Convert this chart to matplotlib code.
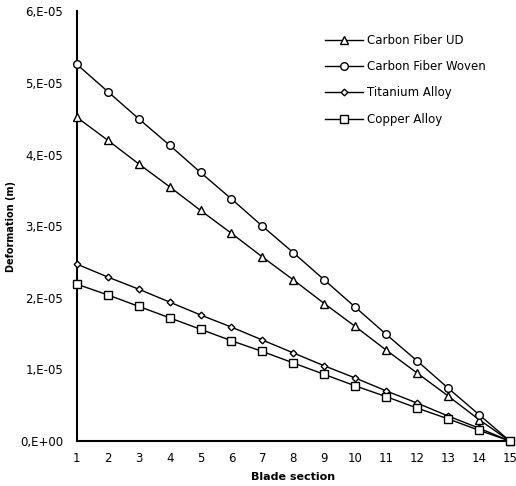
import matplotlib
matplotlib.use("Agg")
import matplotlib.pyplot as plt

sections = list(range(1, 16))
carbon_ud = [4.52e-5, 4.20e-5, 3.87e-5, 3.55e-5, 3.22e-5, 2.90e-5, 2.57e-5, 2.25e-5,
             1.92e-5, 1.60e-5, 1.27e-5, 0.95e-5, 0.63e-5, 0.30e-5, 0.0]
carbon_woven = [5.26e-5, 4.88e-5, 4.50e-5, 4.13e-5, 3.75e-5, 3.38e-5, 3.00e-5, 2.63e-5,
                2.25e-5, 1.87e-5, 1.49e-5, 1.12e-5, 0.74e-5, 0.37e-5, 0.0]
titanium = [2.47e-5, 2.29e-5, 2.12e-5, 1.94e-5, 1.76e-5, 1.59e-5, 1.41e-5, 1.23e-5,
            1.05e-5, 0.88e-5, 0.70e-5, 0.53e-5, 0.35e-5, 0.18e-5, 0.0]
copper = [2.19e-5, 2.04e-5, 1.88e-5, 1.72e-5, 1.56e-5, 1.40e-5, 1.25e-5, 1.09e-5,
          0.93e-5, 0.77e-5, 0.62e-5, 0.46e-5, 0.31e-5, 0.15e-5, 0.0]
series_names = ["Carbon Fiber UD", "Carbon Fiber Woven", "Titanium Alloy", "Copper Alloy"]
y_ticks = [0, 1e-5, 2e-5, 3e-5, 4e-5, 5e-5, 6e-5]
y_tick_labels = ["0,E+00", "1,E-05", "2,E-05", "3,E-05", "4,E-05", "5,E-05", "6,E-05"]

plt.rcParams['font.family'] = ['DejaVu Sans']
fig = plt.figure(figsize=(5.16, 4.86), dpi=100)
ax = fig.add_axes([0.149, 0.0926, 0.839, 0.884])

data = [carbon_ud, carbon_woven, titanium, copper]
markers = ['^', 'o', 'D', 's']
msizes = [5.5, 5.5, 3.4, 5.3]
for vals, name, m, ms in zip(data, series_names, markers, msizes):
    ax.plot(sections, vals, color='black', lw=1.0, marker=m, markersize=ms,
            markerfacecolor='white', markeredgecolor='black', markeredgewidth=1.0,
            label=name, clip_on=False, zorder=3)

ax.set_xlim(1, 15)
ax.set_ylim(0, 6e-5)
ax.set_xticks(sections)
ax.set_xticklabels([str(s) for s in sections], fontsize=8.5)
ax.set_yticks(y_ticks)
ax.set_yticklabels(y_tick_labels, fontsize=8.5)
ax.tick_params(axis='y', length=0, pad=10)
ax.tick_params(axis='x', length=0, pad=8)
for side in ['top', 'right']:
    ax.spines[side].set_visible(False)
for side in ['left', 'bottom']:
    ax.spines[side].set_linewidth(1.5)

ax.set_xlabel("Blade section", fontsize=8, fontweight='bold', labelpad=5)
ax.set_ylabel("Deformation (m)", fontsize=7, fontweight='bold', labelpad=3)

leg = ax.legend(loc='upper left', bbox_to_anchor=(325 / 516, 1 - 34 / 486),
                bbox_transform=fig.transFigure, frameon=False, borderpad=0,
                borderaxespad=0, fontsize=8.5, handlelength=3.2,
                labelspacing=1.12, handletextpad=0.35)

fig.savefig("out.png", dpi=100)
